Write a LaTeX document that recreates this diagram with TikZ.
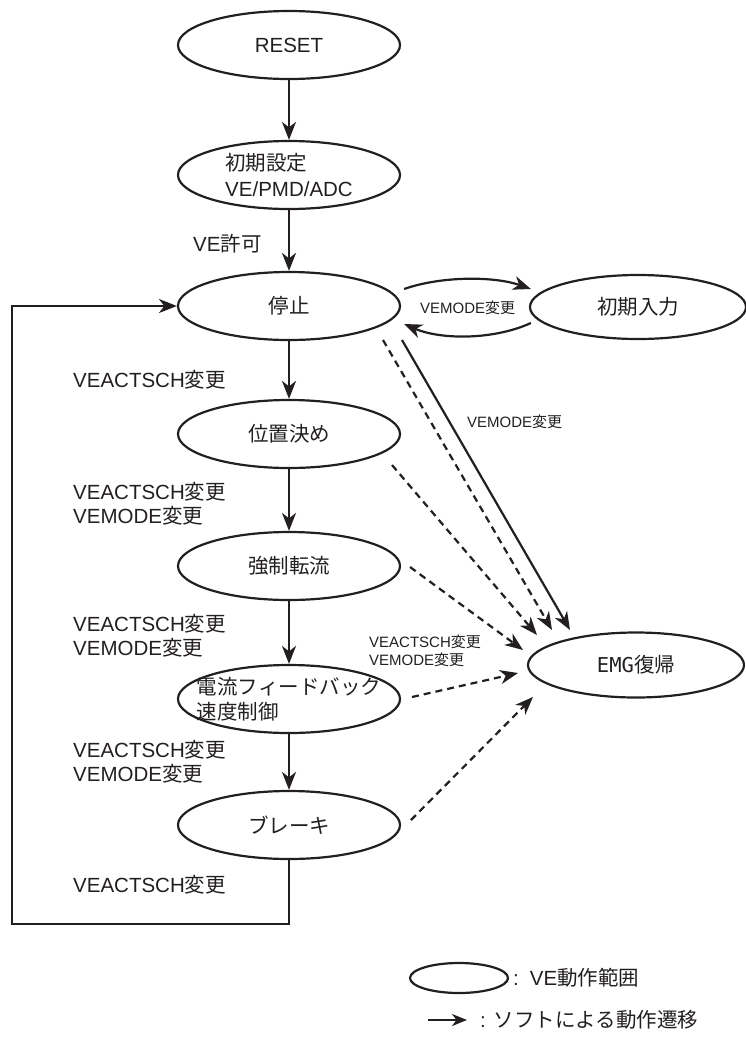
\documentclass[tikz,border=0pt]{standalone}
\usepackage{fontspec}
\setmainfont{Liberation Sans}
\newfontfamily\jpf{Noto Sans CJK JP}
\newfontfamily\monof{DejaVu Sans Mono}
\newcommand\J[1]{{\jpf #1}}
\usetikzlibrary{arrows.meta,shapes.geometric}
\definecolor{ink}{RGB}{35,31,32}
\begin{document}
\begin{tikzpicture}[x=1pt,y=-1pt,
  every node/.style={text=ink,font=\fontsize{20.5}{24}\selectfont},
  st/.style={ellipse,draw=ink,line width=2.2pt,minimum width=222pt,minimum height=68pt,inner sep=0pt},
  arr/.style={draw=ink,line width=2.2pt,-{Stealth[length=18pt,width=14pt,inset=5.5pt]}},
  dsh/.style={arr,dash pattern=on 7pt off 5pt},
  lbl/.style={anchor=west,align=left,inner sep=0pt},
  small/.style={font=\fontsize{15}{18}\selectfont}]
\useasboundingbox (0,0) rectangle (745,1045);

% states
\node[st] (reset) at (289,45) {RESET};
\node[st,align=left,font=\fontsize{20.5}{26}\selectfont] (init) at (289,175) {\J{初期設定}\\VE/PMD/ADC};
\node[st] (stop) at (289,306) {\J{停止}};
\node[st,minimum width=216pt,minimum height=64pt] (input) at (638,307) {\J{初期入力}};
\node[st] (pos) at (289,434) {\J{位置決め}};
\node[st] (force) at (289,566) {\J{強制転流}};
\node[st] (fb) at (289,699) {};
\node[align=left,inner sep=0pt,font=\fontsize{20.5}{25}\selectfont] (fbtxt) at (fb) {\J{電流フィードバック}\\\J{速度制御}};
\node[st] (brake) at (289,825) {\J{ブレーキ}};
\node[st,minimum width=216pt,minimum height=65pt] (emg) at (636,665) {{\monof EMG}\J{復帰}};

% labels
\node[lbl] (l0) at (193,244) {VE\J{許可}};
\node[lbl] (l1) at (73,380) {VEACTSCH\J{変更}};
\node[lbl] (l2) at (73,504) {VEACTSCH\J{変更}\\VEMODE\J{変更}};
\node[lbl] (l3) at (73,636) {VEACTSCH\J{変更}\\VEMODE\J{変更}};
\node[lbl] (l4) at (73,762) {VEACTSCH\J{変更}\\VEMODE\J{変更}};
\node[lbl] (l5) at (73,885) {VEACTSCH\J{変更}};
\node[lbl,small] (l6) at (420,308) {VEMODE\J{変更}};
\node[lbl,small] (l7) at (467,422) {VEMODE\J{変更}};
\node[lbl,small] (l8) at (369,651) {VEACTSCH\J{変更}\\VEMODE\J{変更}};

% main flow
\draw[arr] (reset) -- (init);
\draw[arr] (init) -- (stop);
\draw[arr] (stop) -- (pos);
\draw[arr] (pos) -- (force);
\draw[arr] (force) -- (fb);
\draw[arr] (fb) -- (brake);
\coordinate (lp) at (12,306);
\draw[arr] (brake.south) -- ++(0,64) -| (lp) -- (stop.west);

% stop <-> initial input
\draw[arr] ([shift={(3,-17)}]stop.east) .. controls +(37,-13) and +(-37,-13) .. ([shift={(2,-18)}]input.west);
\draw[arr] ([shift={(2,16)}]input.west) .. controls +(-37,17) and +(37,16) .. ([shift={(3,18)}]stop.east);

% to EMG
\draw[arr] ([shift={(113,34)}]stop.center) -- ([shift={(-66,-35)}]emg.center);
\draw[dsh] ([shift={(94,34)}]stop.center) -- ([shift={(-84,-35)}]emg.center);
\draw[dsh] ([shift={(103,31)}]pos.center) -- ([shift={(-99,-30)}]emg.center);
\draw[dsh] ([shift={(121,1)}]force.center) -- ([shift={(-113,-15)}]emg.center);
\draw[dsh] ([shift={(123,-2)}]fb.center) -- ([shift={(-118,8)}]emg.center);
\draw[dsh] ([shift={(122,-5)}]brake.center) -- ([shift={(-103,32)}]emg.center);

% legend
\node[ellipse,draw=ink,line width=2.2pt,minimum width=98pt,minimum height=30pt,inner sep=0pt] (leg) at (459,978) {};
\node[lbl] (legt) at (513,978) {:\hspace{11pt}VE\J{動作範囲}};
\coordinate (a1) at (428,1020);
\coordinate (a2) at (467,1020);
\draw[draw=ink,line width=2.2pt,-{Stealth[length=15pt,width=12pt,inset=4.5pt]}] (a1) -- (a2);
\node[lbl] (legt2) at (480,1020) {:\hspace{8pt}\J{ソフトによる動作遷移}};
\end{tikzpicture}
\end{document}
